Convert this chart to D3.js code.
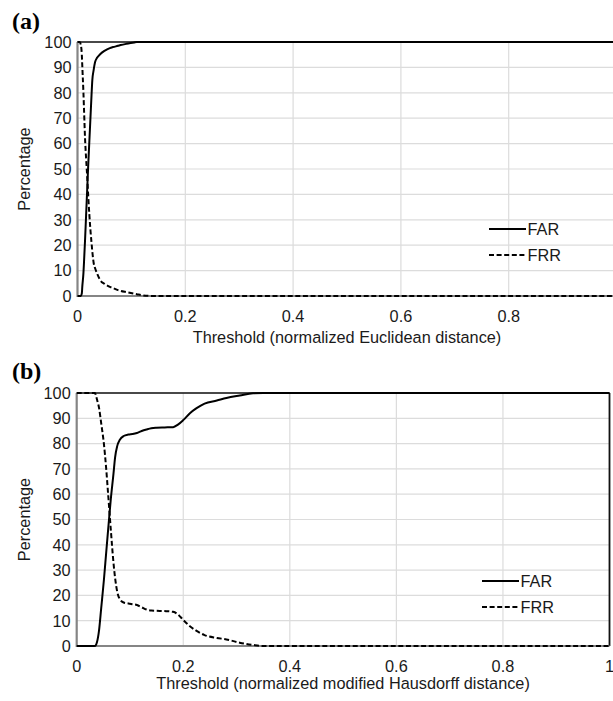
<!DOCTYPE html>
<html>
<head>
<meta charset="utf-8">
<script src="https://cdn.jsdelivr.net/npm/d3@7"></script>
<style>
  html, body { margin: 0; padding: 0; background: #fff; }
  svg { display: block; }
  text { font-family: "Liberation Sans", Arial, sans-serif; fill: #1a1a1a; }
  .panel-tag { font-family: "Liberation Serif", "Times New Roman", serif; font-weight: bold; font-size: 24px; fill: #000; }
</style>
</head>
<body>
<svg id="chart" width="613" height="701"></svg>
<script>
// (a) Euclidean distance: threshold vs. error rates (%)
const thrA = [0, 0.004, 0.006, 0.008, 0.009, 0.011, 0.012, 0.014, 0.016, 0.018, 0.020, 0.022, 0.024, 0.026,
              0.0275, 0.030, 0.0325, 0.036, 0.037, 0.042, 0.050, 0.060, 0.066, 0.075, 0.080, 0.091, 0.105,
              0.110, 0.120, 0.140, 0.200, 0.400, 0.600, 0.800, 1.0];
const farA = [0, 0, 0, 1, 4, 9, 13, 22, 32, 42, 52, 61, 70, 79,
              85, 89, 92, 93.7, 94, 95.2, 96.5, 97.6, 98, 98.5, 98.8, 99.3, 99.8,
              100, 100, 100, 100, 100, 100, 100, 100];
const frrA = [100, 100, 99, 95, 90, 80, 74, 62, 54, 47, 39, 32, 26, 21,
              17.5, 13, 11, 9, 8.5, 6.3, 4.8, 3.6, 3.1, 2.3, 2.0, 1.5, 0.9,
              0.7, 0.3, 0, 0, 0, 0, 0, 0];

// (b) modified Hausdorff distance: threshold vs. error rates (%)
const thrB = [0, 0.034, 0.038, 0.042, 0.046, 0.051, 0.055, 0.059, 0.064, 0.069, 0.072, 0.076, 0.081, 0.088,
              0.097, 0.105, 0.113, 0.122, 0.131, 0.140, 0.150, 0.165, 0.181, 0.190, 0.200, 0.2125, 0.225,
              0.240, 0.263, 0.281, 0.306, 0.331, 0.350, 0.400, 0.600, 0.800, 1.0];
const farB = [0, 0, 1.5, 6.3, 15, 26, 36, 46, 58, 68, 74.5, 79, 81.5, 83,
              83.6, 83.8, 84.2, 85, 85.6, 86.1, 86.3, 86.4, 86.5, 87.5, 89.3, 92, 94,
              95.8, 97, 98, 99, 99.9, 100, 100, 100, 100, 100];
const frrB = [100, 100, 97.5, 94, 88, 80, 71, 60, 46, 33, 27, 21.5, 18.5, 17.2,
              16.8, 16.5, 16.2, 15.3, 14.4, 14.0, 13.9, 13.8, 13.5, 12.5, 10.3, 7.8, 6.0,
              4.3, 3.2, 2.6, 1.3, 0.4, 0, 0, 0, 0, 0];

const yTicks = [0, 10, 20, 30, 40, 50, 60, 70, 80, 90, 100];
const xTicks = [0, 0.2, 0.4, 0.6, 0.8, 1];
const xTickLabels = ["0", "0.2", "0.4", "0.6", "0.8", "1"];
const seriesNames = ["FAR", "FRR"];

const W = 613, H = 701, FS = 16.3;
const svg = d3.select("#chart");
svg.append("rect").attr("width", W).attr("height", H).attr("fill", "#fff");

function drawPanel(cfg) {
  const g = svg.append("g");
  const x = d3.scaleLinear().domain([0, 1]).range([cfg.left, cfg.right]);
  const y = d3.scaleLinear().domain([0, 100]).range([cfg.bottom, cfg.top]);
  const clipId = "clip-" + cfg.tag.replace(/\W/g, "");

  g.append("clipPath").attr("id", clipId)
    .append("rect").attr("x", cfg.left - 2).attr("y", cfg.top - 3)
    .attr("width", cfg.right - cfg.left + 4).attr("height", cfg.bottom - cfg.top + 6);

  // grid
  g.append("g").selectAll("line").data(yTicks.slice(1)).join("line")
    .attr("x1", cfg.left).attr("x2", cfg.right)
    .attr("y1", d => y(d)).attr("y2", d => y(d))
    .attr("stroke", "#dcdcdc").attr("stroke-width", 1.2);
  g.append("g").selectAll("line").data(xTicks.slice(1)).join("line")
    .attr("x1", d => x(d)).attr("x2", d => x(d))
    .attr("y1", cfg.top).attr("y2", cfg.bottom)
    .attr("stroke", "#dcdcdc").attr("stroke-width", 1.2);

  // frame
  g.append("line").attr("x1", cfg.left).attr("x2", cfg.right)
    .attr("y1", cfg.top).attr("y2", cfg.top).attr("stroke", "#111").attr("stroke-width", 1.5);
  if (cfg.rightFrame) {
    g.append("line").attr("x1", cfg.right).attr("x2", cfg.right)
      .attr("y1", cfg.top).attr("y2", cfg.bottom).attr("stroke", "#111").attr("stroke-width", 1.8);
  }
  g.append("line").attr("x1", cfg.left).attr("x2", cfg.right)
    .attr("y1", cfg.bottom).attr("y2", cfg.bottom).attr("stroke", "#858585").attr("stroke-width", 2.2);
  g.append("line").attr("x1", cfg.left).attr("x2", cfg.left)
    .attr("y1", cfg.top).attr("y2", cfg.bottom + 1).attr("stroke", "#858585").attr("stroke-width", 2.2);

  // y tick labels
  g.append("g").selectAll("text").data(yTicks).join("text")
    .attr("x", cfg.left - 6).attr("y", d => y(d) + 5.8)
    .attr("text-anchor", "end").attr("font-size", FS).text(d => d);

  // x tick labels (only those that fall inside the page)
  const xLab = xTicks.map((t, i) => ({ t, label: xTickLabels[i] }))
    .filter(d => x(d.t) < W - 1);
  g.append("g").selectAll("text").data(xLab).join("text")
    .attr("x", d => x(d.t)).attr("y", cfg.bottom + 25.7)
    .attr("text-anchor", "middle").attr("font-size", FS)
    .text(d => d.label);

  // axis titles
  g.append("text").attr("x", (cfg.left + cfg.right) / 2).attr("y", cfg.xTitleY)
    .attr("text-anchor", "middle").attr("font-size", FS).text(cfg.xTitle);
  g.append("text")
    .attr("transform", `translate(30,${(cfg.top + cfg.bottom) / 2}) rotate(-90)`)
    .attr("text-anchor", "middle").attr("font-size", FS).text("Percentage");

  // panel tag
  g.append("text").attr("class", "panel-tag").attr("x", 12).attr("y", cfg.tagY).text(cfg.tag);

  // curves
  const line = d3.line().x(d => x(d[0])).y(d => y(d[1])).curve(d3.curveMonotoneX);
  const plot = g.append("g").attr("clip-path", `url(#${clipId})`);
  plot.append("path").datum(cfg.thr.map((t, i) => [t, cfg.frr[i]]))
    .attr("d", line).attr("fill", "none").attr("stroke", "#000")
    .attr("stroke-width", 2).attr("stroke-dasharray", "5,2.6");
  plot.append("path").datum(cfg.thr.map((t, i) => [t, cfg.far[i]]))
    .attr("d", line).attr("fill", "none").attr("stroke", "#000")
    .attr("stroke-width", 2);

  // legend
  const lg = g.append("g").attr("transform", `translate(${cfg.legendX},${cfg.legendY})`);
  seriesNames.forEach((name, i) => {
    lg.append("line").attr("x1", 0).attr("x2", 37)
      .attr("y1", i * 26).attr("y2", i * 26)
      .attr("stroke", "#000").attr("stroke-width", 2)
      .attr("stroke-dasharray", i === 1 ? "5,2.6" : null);
    lg.append("text").attr("x", 38.5).attr("y", i * 26 + 6)
      .attr("font-size", FS).text(name);
  });
}

drawPanel({
  tag: "(a)", tagY: 29,
  left: 77.5, right: 616.5, top: 42, bottom: 296,
  thr: thrA, far: farA, frr: frrA,
  xTitle: "Threshold (normalized Euclidean distance)", xTitleY: 343,
  legendX: 489, legendY: 229, rightFrame: false
});

drawPanel({
  tag: "(b)", tagY: 379,
  left: 76.7, right: 609.5, top: 393, bottom: 646,
  thr: thrB, far: farB, frr: frrB,
  xTitle: "Threshold (normalized modified Hausdorff distance)", xTitleY: 689,
  legendX: 482, legendY: 581, rightFrame: true
});
</script>
</body>
</html>
